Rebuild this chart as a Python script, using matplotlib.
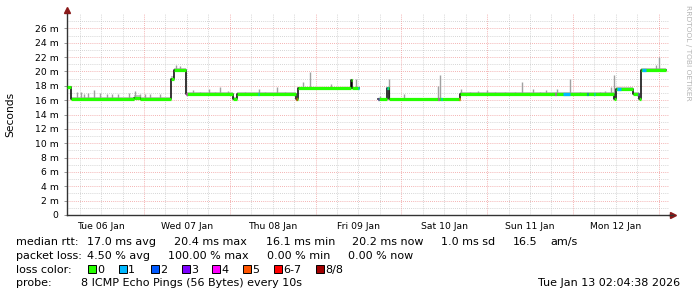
import numpy as np
import matplotlib
matplotlib.use('Agg')
import matplotlib.pyplot as plt
from matplotlib.patches import Rectangle

# ---------------- data (time in days since Tue 06 Jan 2026 00:00, values in ms) ----------------
med_t = [0.103, 0.149, 0.884, 0.950, 1.314, 1.349, 1.490, 2.037, 2.084, 2.772, 2.790,
         3.410, 3.425, 3.506, 3.727, 3.832, 3.855, 4.683, 6.478, 6.501, 6.699, 6.769,
         6.792, 7.084]
med_v = [17.8, 16.1, 16.35, 16.1, 19.0, 20.2, 16.85, 16.2, 16.85, 16.1, 17.65,
         18.8, 17.65, np.nan, 16.1, 17.7, 16.1, 16.85, 16.1, 17.6, 16.85, 16.1,
         20.2, 20.2]
smoke_hi = [0.2, 0.35, 0.35, 0.35, 0.3, 0.3, 0.3, 0.2, 0.35, 0.2, 0.2,
            0.2, 0.2, 0.0, 0.15, 0.2, 0.15, 0.35, 0.2, 0.3, 0.3, 0.2,
            0.25, 0.25]

spike_t = [0.219, 0.266, 0.301, 0.347, 0.417, 0.487, 0.569, 0.627, 0.697, 0.825,
           0.895, 0.953, 1.010, 1.070, 1.187, 1.373, 1.420,
           1.571, 1.653, 1.758, 1.828, 1.886, 1.979, 2.178, 2.340, 2.410, 2.550,
           2.643, 2.854, 2.935, 3.180, 3.470,
           3.856, 3.750, 4.030, 4.451, 4.430, 4.695, 4.800, 4.894, 4.998, 5.092,
           5.209, 5.325, 5.406, 5.534, 5.617, 5.687, 5.815, 5.966, 6.083, 6.316,
           6.374, 6.444, 6.478, 6.969, 7.004]
spike_v = [17.1, 17.1, 16.9, 17.0, 17.4, 17.0, 16.8, 16.9, 16.9, 17.0,
           17.3, 16.9, 16.8, 16.8, 16.9, 20.9, 20.8,
           17.4, 17.2, 17.6, 17.2, 17.9, 17.3, 17.1, 17.6, 17.2, 17.9,
           17.1, 18.5, 19.9, 18.3, 18.9,
           18.9, 16.6, 16.8, 19.5, 18.0, 17.6, 17.2, 17.3, 17.4, 17.2,
           17.2, 17.2, 18.5, 17.6, 17.2, 17.4, 17.5, 19.0, 17.2, 17.2,
           17.3, 17.9, 19.5, 20.9, 22.0]

# loss-colour segments: start, end (days), loss class index
loss_start = [1.490, 2.325, 2.772, 3.498, 3.727, 3.832, 4.425, 4.460, 4.675,
              5.790, 5.885, 6.160, 6.250, 6.510, 6.760, 6.800]
loss_end = [1.500, 2.337, 2.782, 3.506, 3.737, 3.845, 4.435, 4.470, 4.683,
            5.800, 5.966, 6.172, 6.262, 6.560, 6.769, 6.850]
loss_cls = [4, 1, 6, 1, 3, 1, 4, 1, 5, 4, 1, 2, 1, 1, 3, 1]

loss_labels = ['0', '1', '2', '3', '4', '5', '6-7', '8/8']
loss_colors = ['#26ff00', '#00b8ff', '#0059ff', '#7e00ff', '#ff00ff', '#ff5500', '#ff0000', '#a10000']

day_labels = ['Tue 06 Jan', 'Wed 07 Jan', 'Thu 08 Jan', 'Fri 09 Jan', 'Sat 10 Jan', 'Sun 11 Jan', 'Mon 12 Jan']
y_ticks = [0, 2, 4, 6, 8, 10, 12, 14, 16, 18, 20, 22, 24, 26]

# ---------------- figure ----------------
W, H = 697, 297
fig = plt.figure(figsize=(W / 100, H / 100), dpi=100)
fig.patch.set_facecolor('white')

def fx(px):
    return px / W

def fy(py):
    return 1 - py / H

ax_l, ax_r, ax_b, ax_t = 67, 669, 215, 14
ax = fig.add_axes([fx(ax_l), fy(ax_b), (ax_r - ax_l) / W, (ax_b - ax_t) / H])
ax.set_xlim(0.1026, 7.120)
ax.set_ylim(0, 28)
ax.set_facecolor('white')

# grid
for v in range(1, 28):
    if v % 2 == 0:
        ax.axhline(v, color='#f09a9a', lw=0.6, ls=(0, (1, 1.5)), zorder=0)
    else:
        ax.axhline(v, color='#c8c8c8', lw=0.6, ls=(0, (1, 1.5)), zorder=0)
for q in np.arange(0.25, 7.2, 0.25):
    if abs(q - round(q)) < 1e-6:
        ax.axvline(q, color='#f09a9a', lw=0.6, ls=(0, (1, 1.5)), zorder=0)
    else:
        ax.axvline(q, color='#c8c8c8', lw=0.6, ls=(0, (1, 1.5)), zorder=0)

mt = np.array(med_t)
mv = np.array(med_v)
sh = np.array(smoke_hi)

# smoke band
for i in range(len(mt) - 1):
    if np.isnan(mv[i]):
        continue
    ax.fill_between([mt[i], mt[i + 1]], mv[i] - 0.12, mv[i] + sh[i],
                    color='#c4c4c4', lw=0, zorder=1)
# smoke spikes
for tt, v in zip(spike_t, spike_v):
    idx = np.searchsorted(mt, tt, side='right') - 1
    base = mv[max(idx, 0)]
    if np.isnan(base):
        base = v
    ax.vlines(tt, base, v, color='#a0a0a0', lw=1.0, zorder=1)

# median: black step for transitions, coloured horizontal segments
ax.step(mt, mv, where='post', color='black', lw=1.1, zorder=3)
for i in range(len(mt) - 1):
    if np.isnan(mv[i]):
        continue
    ax.hlines(mv[i], mt[i], mt[i + 1], color=loss_colors[0], lw=2.3, zorder=4)
for s, e, c in zip(loss_start, loss_end, loss_cls):
    idx = np.searchsorted(mt, s, side='right') - 1
    ax.hlines(mv[idx], s, e, color=loss_colors[c], lw=2.3, zorder=5)

# axes styling
for side in ['top', 'right']:
    ax.spines[side].set_visible(False)
ax.spines['left'].set_color('#333333')
ax.spines['bottom'].set_color('#333333')
ax.spines['left'].set_linewidth(1.0)
ax.spines['bottom'].set_linewidth(1.0)

ax.set_yticks(y_ticks)
ax.set_yticklabels([('%d m' % v) if v else '0' for v in y_ticks], fontsize=6.7)
ax.tick_params(axis='y', length=2.5, width=0.6, color='#888888', pad=3.5, direction='out')
ax.set_xticks([0.5 + i for i in range(7)])
ax.set_xticklabels(day_labels, fontsize=6.7)
ax.tick_params(axis='x', length=0, pad=5)

# arrows
arrow_c = '#8b1a1a'
ax.plot([0], [1.02], marker='^', color=arrow_c, ms=4, transform=ax.transAxes, clip_on=False)
ax.plot([1.006], [0], marker='>', color=arrow_c, ms=4, transform=ax.transAxes, clip_on=False)
ax.plot([1.0, 1.006], [0, 0], color='#333333', lw=1.0, transform=ax.transAxes, clip_on=False)

# y label and watermark
fig.text(fx(10.5), fy(114), 'Seconds', rotation=90, ha='center', va='center', fontsize=7.7)
fig.text(fx(688), fy(5), 'RRDTOOL / TOBI OETIKER', rotation=270, ha='center', va='top',
         fontsize=5.4, color='#b4b4b4')

# legend text
fs = 8
def t(px, py, s, **kw):
    fig.text(fx(px), fy(py), s, fontsize=fs, va='baseline', ha=kw.pop('ha', 'left'), **kw)

y1, y2, y3, y4 = 245, 259.3, 272.7, 286
t(16, y1, 'median rtt:')
t(87, y1, '17.0 ms avg')
t(174, y1, '20.4 ms max')
t(266, y1, '16.1 ms min')
t(352, y1, '20.2 ms now')
t(441, y1, '1.0 ms sd')
t(513, y1, '16.5')
t(550, y1, 'am/s')

t(16, y2, 'packet loss:')
t(87, y2, '4.50 % avg')
t(168, y2, '100.00 % max')
t(267, y2, '0.00 % min')
t(348, y2, '0.00 % now')

t(16, y3, 'loss color:')
box_x = [88, 119, 151, 182, 212, 243, 274, 316]
for bx, lab, col in zip(box_x, loss_labels, loss_colors):
    fig.patches.append(Rectangle((fx(bx), fy(272.7)), 8 / W, 8 / H, transform=fig.transFigure,
                                 facecolor=col, edgecolor='black', lw=0.7))
    t(bx + 9, y3, lab)

t(16, y4, 'probe:')
t(81, y4, '8 ICMP Echo Pings (56 Bytes) every 10s')
t(680, y4, 'Tue Jan 13 02:04:38 2026', ha='right')

fig.savefig('out.png', dpi=100, facecolor='white')
